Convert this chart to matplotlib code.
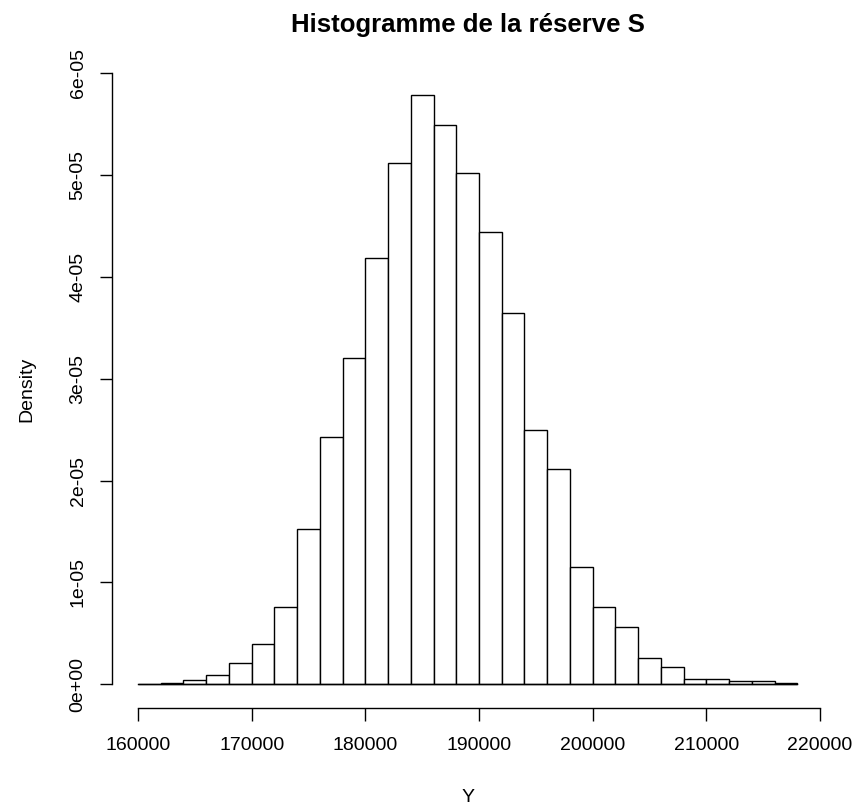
import numpy as np
import matplotlib
matplotlib.use("Agg")
import matplotlib.pyplot as plt

# histogram bins (width 2000) and their densities
breaks = np.arange(160000, 218001, 2000)
density = [0, 1.3e-7, 4.3e-7, 9.2e-7, 2.1e-6, 3.9e-6, 7.6e-6,
           1.52e-5, 2.43e-5, 3.2e-5, 4.19e-5, 5.12e-5, 5.79e-5, 5.49e-5,
           5.02e-5, 4.44e-5, 3.65e-5, 2.5e-5, 2.11e-5,
           1.155e-5, 7.6e-6, 5.6e-6, 2.6e-6, 1.7e-6, 5.2e-7, 5.2e-7,
           2.6e-7, 2.6e-7, 1e-7]
xticks = [160000, 170000, 180000, 190000, 200000, 210000, 220000]
yticks = [0, 1e-5, 2e-5, 3e-5, 4e-5, 5e-5, 6e-5]
ytick_labels = ["0e+00", "1e-05", "2e-05", "3e-05", "4e-05", "5e-05", "6e-05"]

plt.rcParams["font.family"] = ["Liberation Sans", "DejaVu Sans"]

fig = plt.figure(figsize=(8.6, 8.09), dpi=100)
ax = fig.add_axes([0.1298, 0.1253, 0.9577 - 0.1298, 0.912 - 0.1253])

ax.bar(breaks[:-1], density, width=2000, align="edge",
       facecolor="white", edgecolor="black", linewidth=1.0)
ax.plot([breaks[0], breaks[-1]], [0, 0], color="black", linewidth=1.0)

# R style axis limits (4% extension)
xr = breaks[-1] - breaks[0]
ax.set_xlim(breaks[0] - 0.04 * xr, breaks[-1] + 0.04 * xr)
ymax = max(density)
ax.set_ylim(-0.04 * ymax, ymax * 1.04)

for s in ["top", "right"]:
    ax.spines[s].set_visible(False)
ax.spines["bottom"].set_bounds(xticks[0], xticks[-1])
ax.spines["left"].set_bounds(yticks[0], yticks[-1])
for s in ["bottom", "left"]:
    ax.spines[s].set_linewidth(1.0)

ax.set_xticks(xticks)
ax.set_xticklabels([str(t) for t in xticks])
ax.set_yticks(yticks)
ax.set_yticklabels(ytick_labels, rotation=90, va="center")
ax.tick_params(direction="out", length=9, width=1.0, labelsize=14)
ax.tick_params(axis="x", pad=12)
ax.tick_params(axis="y", pad=9)

ax.set_xlabel("Y", fontsize=14, labelpad=25)
ax.set_ylabel("Density", fontsize=14, labelpad=25)
ax.set_title("Histogramme de la réserve S", fontsize=18.5, fontweight="bold", pad=28)

fig.savefig("out.png", dpi=100)
